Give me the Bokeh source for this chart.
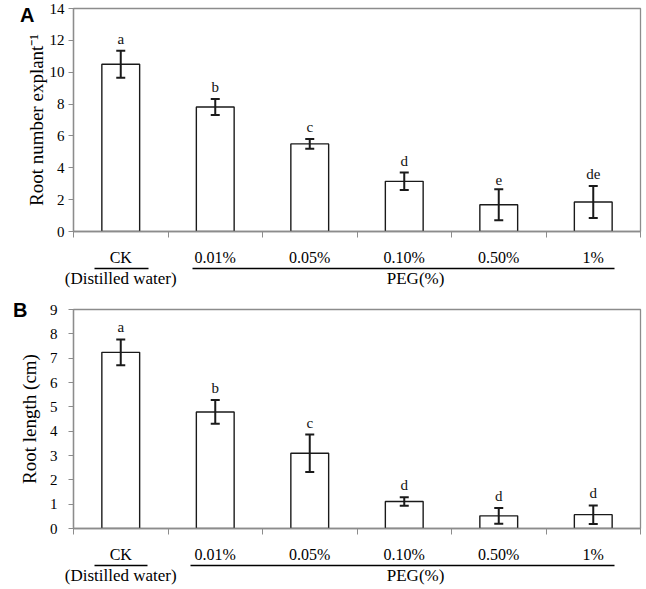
from bokeh.plotting import figure
from bokeh.models import (Range1d, FixedTicker, Whisker, ColumnDataSource,
                          LinearAxis, TeeHead)
from bokeh.layouts import column
from bokeh.embed import file_html
from bokeh.resources import INLINE
from bokeh.core.properties import value

categories = ["CK", "0.01%", "0.05%", "0.10%", "0.50%", "1%"]
control_note = "(Distilled water)"
group_label = "PEG(%)"

root_number = [10.5, 7.82, 5.5, 3.15, 1.68, 1.85]
root_number_err = [0.85, 0.5, 0.3, 0.55, 0.97, 1.0]
root_number_letters = ["a", "b", "c", "d", "e", "de"]
y_ticks_a = [0, 2, 4, 6, 8, 10, 12, 14]

root_length = [7.24, 4.79, 3.09, 1.11, 0.52, 0.57]
root_length_err = [0.53, 0.49, 0.77, 0.17, 0.32, 0.38]
root_length_letters = ["a", "b", "c", "d", "d", "d"]
y_ticks_b = [0, 1, 2, 3, 4, 5, 6, 7, 8, 9]

SERIF = "Liberation Serif"
GRAY = "#8c8c8c"
DARK = "#1a1a1a"


def make_panel(values, errs, letters, yticks, ylabel, panel_letter,
               w, h, bl, br, bt, bb, ylabel_standoff, tick_standoff,
               letter_standoff):
    n = len(categories)
    ymax = yticks[-1]
    p = figure(width=w, height=h, output_backend="svg",
               toolbar_location=None, x_range=Range1d(0, n),
               y_range=Range1d(0, ymax), min_border_left=bl, min_border_right=br,
               min_border_top=bt, min_border_bottom=bb)
    p.grid.visible = False
    p.outline_line_color = GRAY
    p.outline_line_width = 1.3
    p.background_fill_color = "white"
    p.border_fill_color = "white"

    xs = [i + 0.5 for i in range(n)]
    upper = [v + e for v, e in zip(values, errs)]
    lower = [v - e for v, e in zip(values, errs)]
    src = ColumnDataSource(dict(x=xs, v=values, up=upper, lo=lower, let=letters))

    p.vbar(x="x", top="v", width=0.4, bottom=0, source=src,
           fill_color="white", line_color=DARK, line_width=1.4)
    w_ = Whisker(base="x", upper="up", lower="lo", source=src, level="overlay",
                 line_color=DARK, line_width=2,
                 upper_head=TeeHead(size=9, line_width=2, line_color=DARK),
                 lower_head=TeeHead(size=9, line_width=2, line_color=DARK))
    p.add_layout(w_)
    p.text(x="x", y="up", text="let", source=src, text_align="center",
           text_baseline="bottom", y_offset=-4, text_font=value(SERIF),
           text_font_size="15px", text_color="#111111")

    # main x axis: category labels at centres, ticks at category boundaries
    xa = p.xaxis[0]
    xa.ticker = FixedTicker(ticks=xs, minor_ticks=list(range(n + 1)))
    xa.major_label_overrides = {x: c for x, c in zip(xs, categories)}
    xa.major_tick_line_color = None
    xa.major_tick_in = 0
    xa.major_tick_out = 0
    xa.minor_tick_line_color = GRAY
    xa.minor_tick_in = 0
    xa.minor_tick_out = 6
    xa.axis_line_color = GRAY
    xa.axis_line_width = 1.3
    xa.major_label_text_font = SERIF
    xa.major_label_text_font_size = "16px"
    xa.major_label_text_color = "black"
    xa.major_label_text_line_height = 0.9
    xa.major_label_standoff = 11
    xa.axis_label_standoff = 0

    # second x axis: underline of CK / PEG group, sub-labels
    ppu = (w - bl - br) / n
    ck_l, ck_r = xs[0] - 0.28, xs[0] + 0.28
    peg_l, peg_r = xs[1] - 0.26, xs[-1] + 0.23
    dash = "%d %d %d" % (round((ck_r - ck_l) * ppu), round((peg_l - ck_r) * ppu),
                         round((peg_r - peg_l) * ppu) + 20)
    peg_x = xs[3] + 0.12
    xb = LinearAxis(ticker=FixedTicker(ticks=[xs[0], peg_x]),
                    major_label_overrides={xs[0]: control_note, peg_x: group_label},
                    bounds=(ck_l, peg_r), axis_line_color="black",
                    axis_line_width=1.5, axis_line_dash=dash,
                    major_tick_line_color=None, minor_tick_line_color=None,
                    major_tick_in=0, major_tick_out=0, minor_tick_in=0,
                    minor_tick_out=0, major_label_standoff=0,
                    axis_label_standoff=0,
                    major_label_text_font=SERIF, major_label_text_font_size="17px",
                    major_label_text_color="black")
    p.add_layout(xb, "below")

    ya = p.yaxis[0]
    ya.ticker = FixedTicker(ticks=yticks)
    ya.minor_tick_line_color = None
    ya.major_tick_in = 0
    ya.major_tick_out = 5
    ya.axis_line_color = GRAY
    ya.major_tick_line_color = GRAY
    ya.axis_line_width = 1.3
    ya.major_label_text_font = SERIF
    ya.major_label_text_font_size = "15px"
    ya.major_label_text_color = "black"
    ya.major_label_standoff = tick_standoff
    ya.axis_label = ylabel
    ya.axis_label_text_font = SERIF
    ya.axis_label_text_font_style = "normal"
    ya.axis_label_text_font_size = "19px"
    ya.axis_label_text_color = "black"
    ya.axis_label_standoff = ylabel_standoff

    # panel letter as the single label of an outer left axis
    yl = LinearAxis(ticker=FixedTicker(ticks=[ymax]),
                    major_label_overrides={ymax: panel_letter},
                    axis_line_color=None, major_tick_line_color=None,
                    minor_tick_line_color=None, major_tick_in=0, major_tick_out=0,
                    minor_tick_in=0, minor_tick_out=0,
                    major_label_standoff=letter_standoff,
                    axis_label_standoff=0,
                    major_label_text_font="Liberation Sans",
                    major_label_text_font_style="bold",
                    major_label_text_font_size="20px",
                    major_label_text_color="black")
    p.add_layout(yl, "left")
    return p


pa = make_panel(root_number, root_number_err, root_number_letters, y_ticks_a,
                "Root number explant\u207b\u00b9", "A",
                w=644, h=290, bl=63, br=1, bt=8, bb=58,
                ylabel_standoff=0, tick_standoff=4, letter_standoff=-12)
pb = make_panel(root_length, root_length_err, root_length_letters, y_ticks_b,
                "Root length (cm)", "B",
                w=644, h=297, bl=73, br=4, bt=19, bb=57,
                ylabel_standoff=7, tick_standoff=11, letter_standoff=-12)

layout = column(pa, pb, spacing=0)
open("out.html", "w").write(file_html(layout, INLINE))
